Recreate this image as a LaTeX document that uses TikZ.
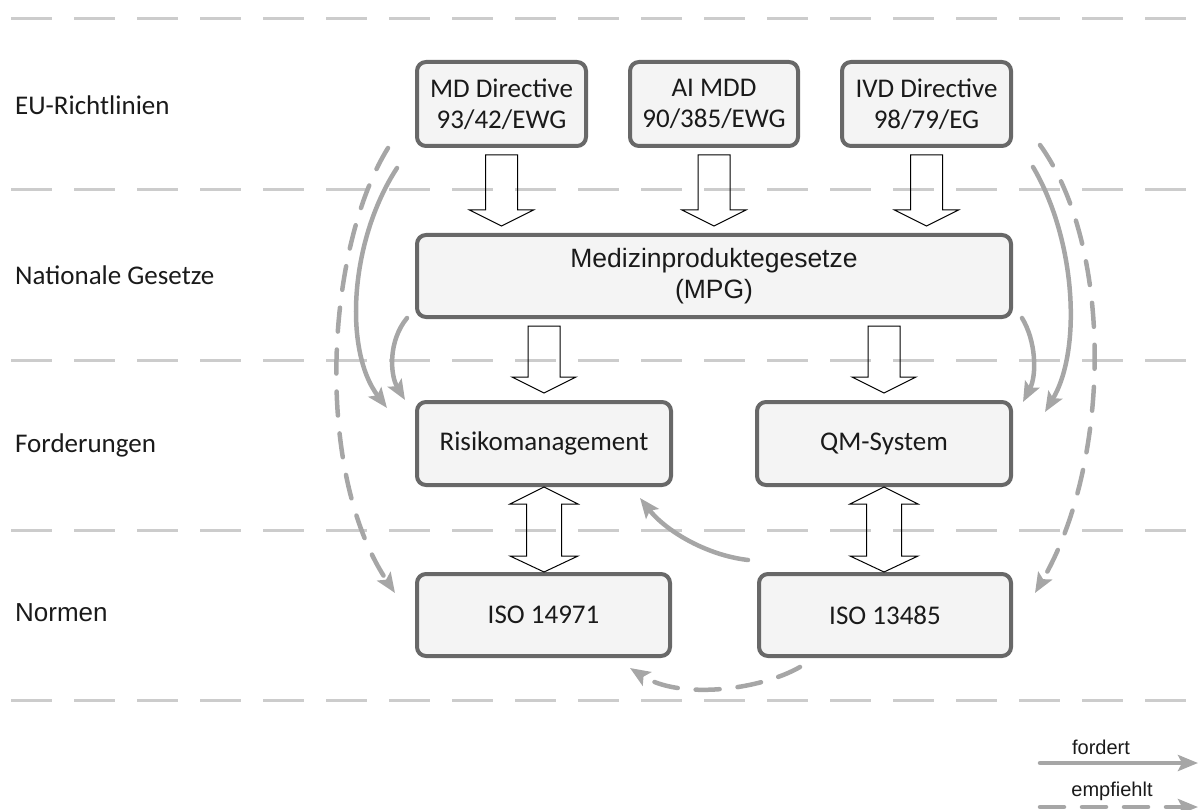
\documentclass[tikz,border=0pt]{standalone}
\usepackage{fontspec}
\setmainfont{Carlito}
\newfontfamily\arialfont{Liberation Sans}
\usetikzlibrary{calc,arrows.meta}

\definecolor{lanegray}{HTML}{CCCCCC}
\definecolor{boxborder}{HTML}{686868}
\definecolor{boxfill}{HTML}{F4F4F4}
\definecolor{flowgray}{HTML}{A6A6A6}
\definecolor{inkgray}{HTML}{1A1A1A}

% hollow block arrow pointing down, drawn at the x position of node #3
\newcommand\flowdown[3]{%
  \draw[blockarrow] let \p1=($(#3.center |- #1.south)+(0,9)$),
                        \p2=($(#3.center |- #2.north)+(0,-9)$) in
    (\x1-16pt,\y1) -- (\x1+16pt,\y1) -- (\x1+16pt,\y2+16pt) -- (\x1+32pt,\y2+16pt)
    -- (\x1,\y2) -- (\x1-32pt,\y2+16pt) -- (\x1-16pt,\y2+16pt) -- cycle;}

% hollow double-headed block arrow between two stacked nodes
\newcommand\flowboth[2]{%
  \draw[blockarrow] let \p1=($(#1.south)+(0,2)$), \p2=($(#1.center |- #2.north)+(0,-2)$) in
    (\x1,\y1) -- (\x1+34pt,\y1-17pt) -- (\x1+17.5pt,\y1-17pt) -- (\x1+17.5pt,\y2+16pt)
    -- (\x1+34pt,\y2+16pt) -- (\x1,\y2) -- (\x1-34pt,\y2+16pt) -- (\x1-17.5pt,\y2+16pt)
    -- (\x1-17.5pt,\y1-17pt) -- (\x1-34pt,\y1-17pt) -- cycle;}

\begin{document}
\begin{tikzpicture}[x=1pt,y=-1pt,
  lane/.style={draw=lanegray,line width=3pt,dash pattern=on 41pt off 22pt},
  regbox/.style={draw=boxborder,fill=boxfill,line width=4pt,rounded corners=9pt,
    inner sep=0pt,outer sep=0pt,align=center,text=inkgray,
    font=\fontsize{27}{31}\selectfont},
  rowlabel/.style={anchor=west,inner sep=0pt,text=inkgray,
    font=\fontsize{27}{31}\selectfont},
  blockarrow/.style={draw=black,line width=1pt,line join=miter},
  requires/.style={draw=flowgray,line width=4.5pt,line cap=round,
    -{Stealth[length=20pt,width=16pt,inset=4pt]}},
  recommends/.style={requires,dash pattern=on 24pt off 18pt},
  legendtext/.style={inner sep=0pt,text=inkgray,font=\arialfont\fontsize{20}{24}\selectfont},
]
\useasboundingbox (0,0) rectangle (1198,810);

% swim-lane separators
\foreach \yy in {19,190,360,530,700}
  \draw[lane] (11,\yy) -- (1198,\yy);

% row titles
\node[rowlabel] (lblEU)  at (15,105) {EU-Richtlinien};
\node[rowlabel] (lblNat) at (15,275) {Nationale Gesetze};
\node[rowlabel] (lblFor) at (15,445) {Forderungen};
\node[rowlabel,font=\arialfont\fontsize{26}{31}\selectfont] (lblNorm) at (15,613) {Normen};

% boxes
\node[regbox,minimum width=169pt,minimum height=84pt] (md)  at (501.5,104) {MD Directive\\93/42/EWG};
\node[regbox,minimum width=168pt,minimum height=84pt] (ai)  at (714,104)   {AI MDD\\90/385/EWG};
\node[regbox,minimum width=169pt,minimum height=84pt] (ivd) at (926.5,104) {IVD Directive\\98/79/EG};
\node[regbox,minimum width=594pt,minimum height=82pt,
      font=\arialfont\fontsize{26.5}{31}\selectfont] (mpg) at (714,276) {Medizinproduktegesetze\\(MPG)};
\node[regbox,minimum width=254pt,minimum height=83pt] (risk) at (544,443.5) {Risikomanagement};
\node[regbox,minimum width=254pt,minimum height=83pt] (qm)   at (884,443.5) {QM-System};
\node[regbox,minimum width=253pt,minimum height=82pt] (iso1) at (543.5,615) {ISO 14971};
\node[regbox,minimum width=252pt,minimum height=82pt] (iso2) at (885,615)   {ISO 13485};

% block arrows
\flowdown{md}{mpg}{md}
\flowdown{ai}{mpg}{ai}
\flowdown{ivd}{mpg}{ivd}
\flowdown{mpg}{risk}{risk}
\flowdown{mpg}{qm}{qm}
\flowboth{risk}{iso1}
\flowboth{qm}{iso2}

% left arcs
\draw[requires] ($(md.south west)+(-20,22)$) .. controls +(-47,72) and +(-44,-58) .. ($(risk.north west)+(-30,6)$);
\draw[recommends] ($(md.south west)+(-29,2)$) .. controls +(-62,100) and +(-82,-123) .. ($(iso1.north west)+(-22,19)$);
\draw[requires] ($(mpg.south west)+(-10,1)$) .. controls +(-19,23) and +(-15,-25) .. ($(risk.north west)+(-12,-2)$);

% right arcs
\draw[requires] ($(ivd.south east)+(22,21)$) .. controls +(43,73) and +(37,-62) .. ($(qm.north east)+(34,10)$);
\draw[recommends] ($(ivd.south east)+(29,-1)$) .. controls +(74,103) and +(76,-130) .. ($(iso2.north east)+(24,19)$);
\draw[requires] ($(mpg.south east)+(11,1)$) .. controls +(14,23) and +(14,-27) .. ($(qm.north east)+(12,0)$);

% bottom arcs
\draw[requires] ($(iso2.north west)+(-11,-14)$) .. controls +(-43,-5) and +(25,32) .. ($(risk.south east)+(-31,13)$);
\draw[recommends] ($(iso2.south west)+(41,11)$) .. controls +(-40,23) and +(50,32) .. ($(iso1.south east)+(-40,12)$);

% legend
\node[legendtext] (lgreq) at (1101,747) {fordert};
\coordinate (lgreqA) at (1040,763);
\coordinate (lgreqB) at (1198,763);
\draw[requires] (lgreqA) -- (lgreqB);
\node[legendtext] (lgrec) at (1112,791) {empfiehlt};
\coordinate (lgrecA) at (1040,807);
\coordinate (lgrecB) at (1198,807);
\draw[recommends] (lgrecA) -- (lgrecB);
\end{tikzpicture}
\end{document}
